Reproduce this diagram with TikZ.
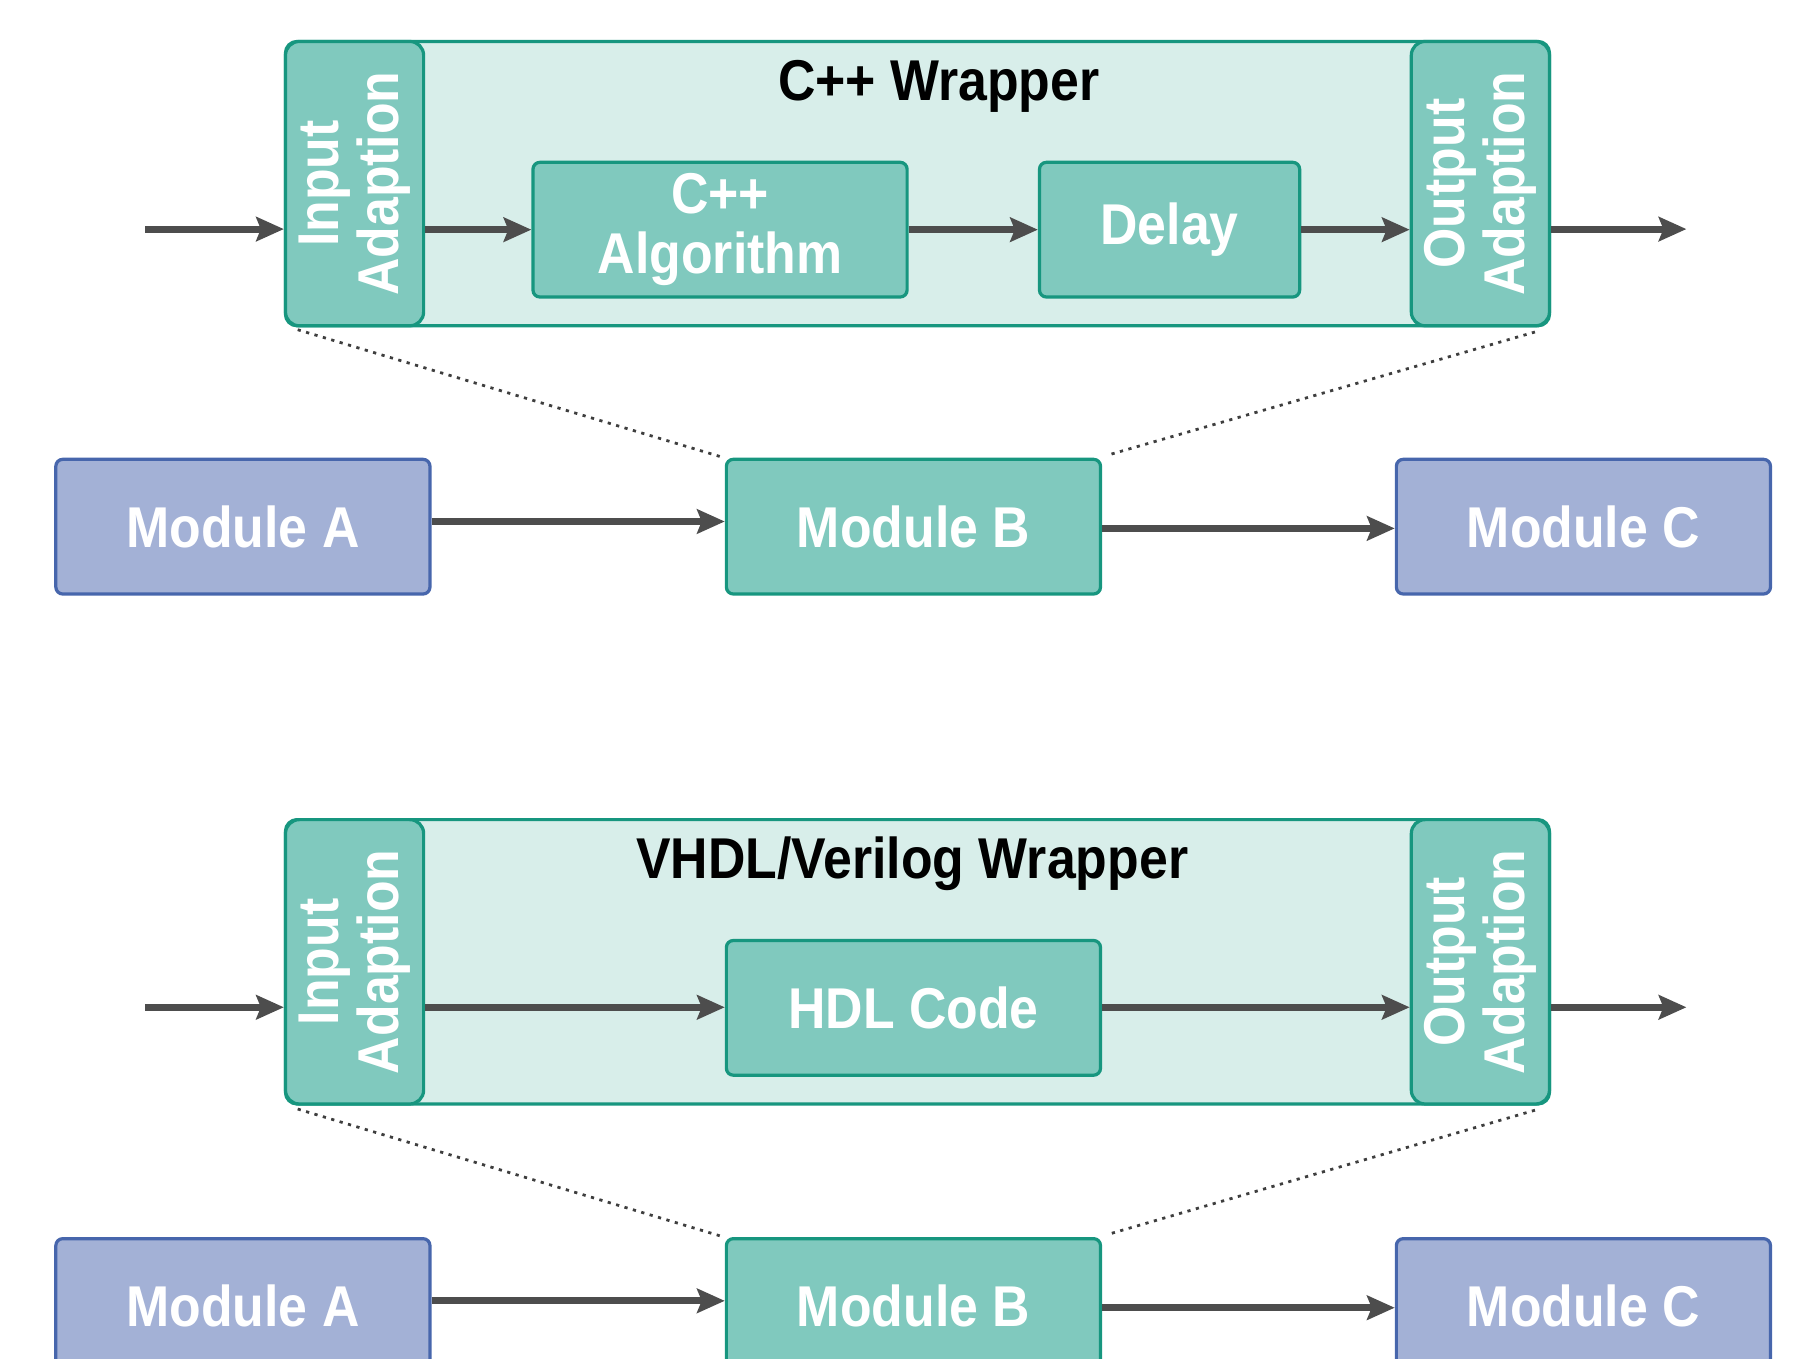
\documentclass[tikz,border=0pt]{standalone}
\usepackage{fontspec}
\setmainfont{Liberation Sans}[FakeStretch=0.9]
\usetikzlibrary{arrows.meta}

\definecolor{tealfill}{HTML}{80C9BE}
\definecolor{tealline}{HTML}{17967F}
\definecolor{wrapfill}{HTML}{D8EEEA}
\definecolor{modfill}{HTML}{A3B1D6}
\definecolor{modline}{HTML}{4766AC}
\definecolor{arrowgray}{HTML}{4D4D4D}

\begin{document}
\begin{tikzpicture}[x=0.5pt,y=-0.5pt,
  lbl/.style={font=\fontsize{25pt}{26pt}\selectfont\bfseries, text=white, align=center, inner sep=0pt},
  title/.style={font=\fontsize{25pt}{26pt}\selectfont\bfseries, text=black, anchor=base, inner sep=0pt},
  tealbox/.style={lbl, draw=tealline, fill=tealfill, line width=1.4pt, rounded corners=3pt,
                  minimum width=162.5pt, minimum height=58.5pt},
  modbox/.style={lbl, draw=modline, fill=modfill, line width=1.4pt, rounded corners=3pt,
                 minimum width=162.5pt, minimum height=58.5pt},
  wrapbox/.style={draw=tealline, fill=wrapfill, line width=1.4pt, rounded corners=5pt,
                  minimum width=549pt, minimum height=123.5pt, inner sep=0pt},
  adapt/.style={lbl, rotate=90, draw=tealline, fill=tealfill, line width=1.4pt, rounded corners=6pt,
                minimum width=123.5pt, minimum height=60pt},
  arr/.style={draw=arrowgray, line width=3pt, -{Stealth[length=12pt,width=10.5pt,inset=2pt]}},
  zoomline/.style={draw=arrowgray!80!black, line width=1.2pt, dash pattern=on 1.4pt off 2.4pt}
]
\useasboundingbox (0,0) rectangle (1568,1180);
\clip (0,0) rectangle (1568,1180);

% ---------------- C++ wrapper ----------------
\node[wrapbox] (wrap1) at (797,159.5) {};
\node[adapt] (in1) at (308,159.5) {Input\\Adaption};
\node[adapt] (out1) at (1286,159.5) {Output\\Adaption};
\node[title] (t1) at (815.5,87) {C++ Wrapper};
\node[tealbox] (alg) at (625.5,199.5) {C++\\Algorithm};
\node[tealbox, minimum width=113pt] (delay) at (1016,199.5) {Delay};
\coordinate (s1) at (126,199);
\coordinate (e1) at (1465,199);

\draw[arr] (s1) -- (s1 -| in1.north);
\draw[arr] (in1.south |- alg.west) -- (alg.west);
\draw[arr] (alg.east) -- (delay.west);
\draw[arr] (delay.east) -- (delay.east -| out1.north);
\draw[arr] (out1.south |- e1) -- (e1);

% ---------------- module chain 1 ----------------
\node[modbox] (mA1) at (211,457.5) {Module A};
\node[tealbox] (mB1) at (793.5,457.5) {Module B};
\node[modbox] (mC1) at (1375.5,457.5) {Module C};

\draw[arr] ([yshift=2.25pt]mA1.east) -- ([yshift=2.25pt]mB1.west);
\draw[arr] ([yshift=-0.75pt]mB1.east) -- ([yshift=-0.75pt]mC1.west);

\draw[zoomline] ([xshift=6pt,yshift=-1pt]wrap1.south west) -- ([xshift=-2pt,yshift=0.5pt]mB1.north west);
\draw[zoomline] ([xshift=-7pt,yshift=-2pt]wrap1.south east) -- ([xshift=2pt,yshift=1pt]mB1.north east);

% ---------------- VHDL/Verilog wrapper ----------------
\node[wrapbox] (wrap2) at (797,835.5) {};
\node[adapt] (in2) at (308,835.5) {Input\\Adaption};
\node[adapt] (out2) at (1286,835.5) {Output\\Adaption};
\node[title] (t2) at (792.5,763) {VHDL/Verilog Wrapper};
\node[tealbox] (hdl) at (793.5,875.5) {HDL Code};
\coordinate (s2) at (126,875);
\coordinate (e2) at (1465,875);

\draw[arr] (s2) -- (s2 -| in2.north);
\draw[arr] (in2.south |- s2) -- (s2 -| hdl.west);
\draw[arr] (s2 -| hdl.east) -- (s2 -| out2.north);
\draw[arr] (out2.south |- e2) -- (e2);

% ---------------- module chain 2 ----------------
\node[modbox] (mA2) at (211,1134.5) {Module A};
\node[tealbox] (mB2) at (793.5,1134.5) {Module B};
\node[modbox] (mC2) at (1375.5,1134.5) {Module C};

\draw[arr] ([yshift=2.25pt]mA2.east) -- ([yshift=2.25pt]mB2.west);
\draw[arr] ([yshift=-0.75pt]mB2.east) -- ([yshift=-0.75pt]mC2.west);

\draw[zoomline] ([xshift=6pt,yshift=-1.5pt]wrap2.south west) -- ([xshift=-2pt,yshift=0.5pt]mB2.north west);
\draw[zoomline] ([xshift=-7pt,yshift=-2pt]wrap2.south east) -- ([xshift=2pt,yshift=1pt]mB2.north east);
\end{tikzpicture}
\end{document}
